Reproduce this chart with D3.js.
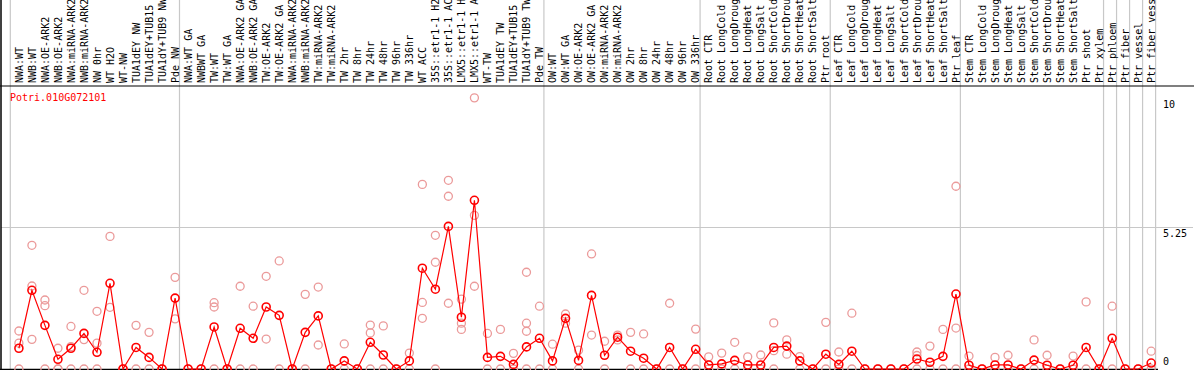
<!DOCTYPE html>
<html>
<head>
<meta charset="utf-8">
<script src="https://cdn.jsdelivr.net/npm/d3@7"></script>
<style>
  body { margin: 0; background: #fff; }
  svg { display: block; font-family: "DejaVu Sans Mono", monospace; }
</style>
</head>
<body>
<svg width="1194" height="370"></svg>
<script>
const LINE_COLOR = '#ff0000';
const REP_COLOR = '#eb9a9a';
const GRID_COLOR = '#c8c8c8';

var gene_name = "Potri.010G072101";

var categories = [
    "NWA:WT", "NWB:WT", "NWA:OE-ARK2", "NWB:OE-ARK2", "NWA:miRNA-ARK2", "NWB:miRNA-ARK2",
    "NW 0hr", "WT H2O", "WT-NW", "TUA1dEY NW", "TUA1dEY+TUB15 NW", "TUA1dY+TUB9 NW", "Pde NW",
    "NWA:WT GA", "NWBWT GA", "TW:WT", "TW:WT GA", "NWA:OE-ARK2 GA", "NWB:OE-ARK2 GA",
    "TW:OE-ARK2", "TW:OE-ARK2 GA", "NWA:miRNA-ARK2 GA", "NWB:miRNA-ARK2 GA", "TW:miRNA-ARK2",
    "TW:miRNA-ARK2 GA", "TW 2hr", "TW 8hr", "TW 24hr", "TW 48hr", "TW 96hr", "TW 336hr",
    "WT ACC", "35S::etr1-1 H2O", "35S::etr1-1 ACC", "LMX5::etr1-1 H2O", "LMX5::etr1-1 ACC",
    "WT-TW", "TUA1dEY TW", "TUA1dEY+TUB15 TW", "TUA1dY+TUB9 TW", "Pde TW",
    "OW:WT", "OW:WT GA", "OW:OE-ARK2", "OW:OE-ARK2 GA", "OW:miRNA-ARK2", "OW:miRNA-ARK2 GA",
    "OW 2hr", "OW 8hr", "OW 24hr", "OW 48hr", "OW 96hr", "OW 336hr",
    "Root CTR", "Root LongCold", "Root LongDrought", "Root LongHeat", "Root LongSalt",
    "Root ShortCold", "Root ShortDrought", "Root ShortHeat", "Root ShortSalt", "Ptr root",
    "Leaf CTR", "Leaf LongCold", "Leaf LongDrought", "Leaf LongHeat", "Leaf LongSalt",
    "Leaf ShortCold", "Leaf ShortDrought", "Leaf ShortHeat", "Leaf ShortSalt", "Ptr leaf",
    "Stem CTR", "Stem LongCold", "Stem LongDrought", "Stem LongHeat", "Stem LongSalt",
    "Stem ShortCold", "Stem ShortDrought", "Stem ShortHeat", "Stem ShortSalt", "Ptr shoot", "Ptr xylem",
    "Ptr phloem", "Ptr fiber", "Ptr vessel", "Ptr fiber vessel"
];

// index of the first sample of every block (a grey separator is drawn there)
var group_starts = [0, 13, 41, 53, 63, 73, 84, 85, 86, 87, 88];

var mean_values = [
    0.77, 2.92, 1.62, 0.36, 0.77, 1.32, 0.62, 3.18, 0, 0.80, 0.43, 0, 2.63,
    0, 0, 1.56, 0, 1.51, 1.14, 2.30, 1.99, 0, 1.36, 1.97, 0, 0.30, 0, 0.99, 0.52, 0, 0.30,
    3.74, 2.96, 5.29, 1.92, 6.26, 0.43, 0.47, 0.17, 0.82, 1.14,
    0.30, 1.88, 0.32, 2.73, 0.51, 1.18, 0.66, 0.40, 0, 0.80, 0, 0.73,
    0.15, 0.19, 0.32, 0.15, 0.15, 0.80, 0.85, 0.30, 0, 0.55,
    0.17, 0.66, 0, 0, 0, 0, 0.37, 0.25, 0.47, 2.78,
    0.14, 0, 0.15, 0.15, 0, 0.33, 0.14, 0, 0.14, 0.80, 0,
    1.14, 0, 0, 0.22
];

var replicate_values = [
    [1.41, 0.96, 0], [4.59, 3.08, 1.10], [2.56, 2.35, 0], [0.77, 0, 0], [1.58, 0.83, 0],
    [2.92, 1.09, 0], [2.14, 0.96, 0], [4.92, 2.29], [0, 0], [1.62, 0], [1.36, 0], [0, 0], [3.40, 1.86],
    [0], [0], [2.46, 2.30, 0], [0], [3.07, 0], [2.33, 0], [3.44, 1.11], [4.01, 0], [0],
    [2.77, 0], [3.04, 0.89], [0], [0.93, 0], [0], [1.63, 1.34, 0], [1.60, 0], [0], [0.59, 0],
    [6.85, 2.47, 1.88], [4.96, 3.96, 0], [7.00, 6.41, 2.44], [2.59, 1.70, 1.47], [10.06, 5.70, 3.07],
    [1.32, 0], [1.47, 0], [0.58, 0], [3.59, 1.70, 1.40, 0], [2.33, 0],
    [0.92, 0], [2.04, 1.70], [0.70, 0], [4.27, 1.26], [1.03, 0], [1.26, 1.08],
    [1.36, 0], [1.30, 0], [0], [2.44, 0], [0], [1.48, 0],
    [0.45, 0], [0.59, 0], [0.99, 0], [0.45, 0], [0.52, 0], [1.71, 0.68, 0], [1.08, 0.55],
    [0.46, 0], [0], [1.73, 0],
    [0.63, 0], [2.07, 0], [0], [0], [0], [0], [0.63, 0.50, 0], [0.85, 0], [1.47, 0], [6.78, 1.52, 0],
    [0.48, 0], [0], [0.43, 0], [0.51, 0], [0], [1.08, 0], [0.51, 0], [0], [0.48, 0], [2.49, 0], [0],
    [2.33, 0], [0], [0], [0.66, 0]
];

var y_domain = [0, 10.5];
var y_tick_values = [0, 5.25, 10];
var y_tick_labels = ["0", "5.25", "10"];

var svg = d3.select("svg");
var W = 1194, H = 370;
var plot_top = 86, plot_bottom = 369;

var x = d3.scaleBand()
    .domain(categories)
    .range([10.3, 1155.6])
    .paddingInner(0)
    .paddingOuter(0);

var y = d3.scaleLinear()
    .domain(y_domain)
    .range([plot_bottom, plot_top]);

function px(d){
    // sample position inside its band
    return x(d) + 8.6;
}

// mid gridline
svg.append("line")
    .attr("x1", 1).attr("x2", W - 1)
    .attr("y1", y(5.25)).attr("y2", y(5.25))
    .attr("stroke", GRID_COLOR).attr("stroke-width", 1.2);

// block separators
svg.append("g").selectAll("line")
    .data(group_starts)
    .enter().append("line")
    .attr("x1", function(i){ return i < categories.length ? x(categories[i]) : x.range()[1]; })
    .attr("x2", function(i){ return i < categories.length ? x(categories[i]) : x.range()[1]; })
    .attr("y1", 0).attr("y2", plot_bottom)
    .attr("stroke", GRID_COLOR).attr("stroke-width", 1.2);

// frame
svg.append("line").attr("x1", 1).attr("x2", 1).attr("y1", 0).attr("y2", H)
    .attr("stroke", "#000").attr("stroke-width", 1.5);
svg.append("line").attr("x1", 0).attr("x2", W).attr("y1", plot_top).attr("y2", plot_top)
    .attr("stroke", "#000").attr("stroke-width", 1.2);
svg.append("line").attr("x1", 0).attr("x2", 1158).attr("y1", plot_bottom + 0.5).attr("y2", plot_bottom + 0.5)
    .attr("stroke", "#000").attr("stroke-width", 1.5);

// rotated sample labels
svg.append("g").selectAll("text")
    .data(categories)
    .enter().append("text")
    .attr("transform", function(d){ return "translate(" + (px(d) + 3.6) + ",83) rotate(-90)"; })
    .attr("font-size", 10)
    .attr("fill", "#000")
    .text(function(d){ return d; });

// right value labels
svg.append("g").selectAll("text")
    .data(y_tick_values)
    .enter().append("text")
    .attr("x", 1163)
    .attr("y", function(v){ return Math.min(y(v) + 9, 365); })
    .attr("font-size", 10)
    .attr("fill", "#000")
    .text(function(v, i){ return y_tick_labels[i]; });

// gene title
svg.append("text")
    .attr("x", 10).attr("y", 101)
    .attr("font-size", 10)
    .attr("fill", LINE_COLOR)
    .text(gene_name);

// replicate points
var reps_flat = [];
for (var i = 0; i < categories.length; i++){
    for (var j = 0; j < replicate_values[i].length; j++){
        reps_flat.push({cat: categories[i], v: replicate_values[i][j]});
    }
}

svg.append("g").selectAll("circle")
    .data(reps_flat)
    .enter().append("circle")
    .attr("cx", function(d){ return px(d.cat); })
    .attr("cy", function(d){ return y(d.v); })
    .attr("r", 4)
    .attr("fill", "none")
    .attr("stroke", REP_COLOR)
    .attr("stroke-width", 1.3);

// mean line + points
var line = d3.line()
    .x(function(d, i){ return px(categories[i]); })
    .y(function(d){ return y(d); });

svg.append("path")
    .datum(mean_values)
    .attr("d", line)
    .attr("fill", "none")
    .attr("stroke", LINE_COLOR)
    .attr("stroke-width", 1.2);

svg.append("g").selectAll("circle")
    .data(mean_values)
    .enter().append("circle")
    .attr("cx", function(d, i){ return px(categories[i]); })
    .attr("cy", function(d){ return y(d); })
    .attr("r", 4)
    .attr("fill", "none")
    .attr("stroke", LINE_COLOR)
    .attr("stroke-width", 1.6);
</script>
</body>
</html>
